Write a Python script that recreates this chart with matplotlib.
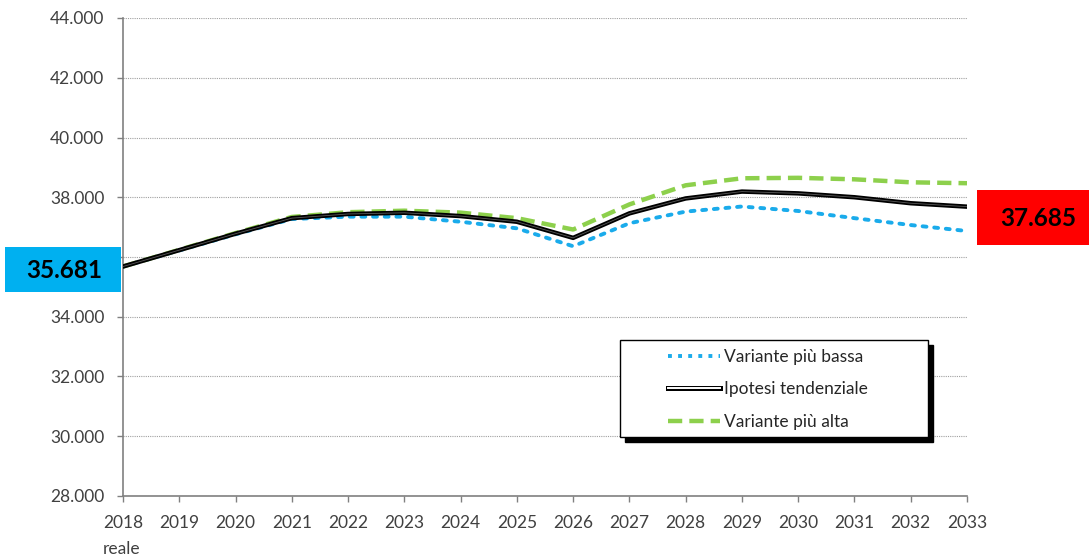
import matplotlib
matplotlib.use("Agg")
import matplotlib.pyplot as plt
from matplotlib.ticker import FuncFormatter, MultipleLocator
from matplotlib.lines import Line2D
import matplotlib.patheffects as pe

years = ["2018\nreale", "2019", "2020", "2021", "2022", "2023", "2024", "2025",
         "2026", "2027", "2028", "2029", "2030", "2031", "2032", "2033"]
bassa = [35681, 36220, 36760, 37270, 37350, 37350, 37180, 36960,
         36360, 37130, 37520, 37690, 37540, 37300, 37070, 36870]
tendenziale = [35681, 36230, 36780, 37300, 37440, 37480, 37370, 37180,
               36640, 37460, 37960, 38190, 38130, 38000, 37800, 37685]
alta = [35681, 36240, 36800, 37340, 37500, 37550, 37485, 37300,
        36920, 37760, 38400, 38635, 38650, 38600, 38500, 38470]
series_names = ["Variante più bassa", "Ipotesi tendenziale", "Variante più alta"]
label_left = "35.681"
label_right = "37.685"

plt.rcParams['font.family'] = ['Lato', 'DejaVu Sans']

fig = plt.figure(figsize=(10.89, 5.56), dpi=100)
ax = fig.add_axes([123/1089, 1 - 496/556, (967-123)/1089, (496-18)/556])

x = list(range(len(years)))
ax.plot(x, bassa, color="#1AABEB", lw=2.8, linestyle=(0, (1, 2)),
        dash_capstyle='round', zorder=3)
ax.plot(x, tendenziale, color="black", lw=3.2, zorder=4)
ax.plot(x, tendenziale, color="#5a5a5a", lw=0.6, zorder=5)
ax.plot(x, alta, color="#8DD04C", lw=3.2, linestyle=(0, (3.2, 1.6)), zorder=3)

ax.set_xlim(0, len(years) - 1)
ax.set_ylim(28000, 44000)
ax.yaxis.set_major_locator(MultipleLocator(2000))
# the 36.000 label is hidden behind the blue value box in the original
ax.yaxis.set_major_formatter(FuncFormatter(
    lambda v, p: "" if abs(v - 36000) < 1 else f"{v:,.0f}".replace(",", ".")))
ax.set_xticks(x)
ax.set_xticklabels(years, linespacing=1.75)
for lbl in ax.get_xticklabels():
    lbl.set_verticalalignment('top')
    lbl.set_horizontalalignment('center')
    lbl.set_multialignment('left')

ax.grid(axis='y', color="#a0a0a0", linestyle=(0, (1, 1)), lw=0.8)
for s in ['top', 'right']:
    ax.spines[s].set_visible(False)
for s in ['left', 'bottom']:
    ax.spines[s].set_color("#808080")
    ax.spines[s].set_linewidth(1.2)
ax.tick_params(axis='both', colors="#808080", labelcolor="#404040",
               labelsize=12.5, length=4.5, width=1)
ax.tick_params(axis='x', pad=9)
ax.tick_params(axis='y', pad=9)

# Legend with shadow
lx, ly, lw_, lh = 620/1089, 1 - 437/556, (928-620)/1089, (437-340)/556
fig.patches.append(plt.Rectangle((lx + 5/1089, ly - 5/556), lw_, lh,
                                 transform=fig.transFigure, facecolor='black',
                                 edgecolor='black', zorder=9))
fig.patches.append(plt.Rectangle((lx, ly), lw_, lh, transform=fig.transFigure,
                                 facecolor='white', edgecolor='black', lw=1.0,
                                 zorder=10))

h1 = Line2D([], [], color="#1AABEB", lw=2.8, linestyle=(0, (1, 1.6)))
h2 = Line2D([], [], color="black", lw=3.6,
            path_effects=[pe.Stroke(linewidth=3.6, foreground='black'),
                          pe.Stroke(linewidth=1.4, foreground='white')])
h3 = Line2D([], [], color="#8DD04C", lw=3.2, linestyle=(0, (3.2, 1.6)))
leg = fig.legend([h1, h2, h3], series_names,
                 loc='upper left', bbox_to_anchor=(661/1089, 1 - 342/556),
                 frameon=False, fontsize=12.5, handlelength=3.0, handletextpad=0.2,
                 labelspacing=0.95, borderaxespad=0)
leg.set_zorder(11)
for t in leg.get_texts():
    t.set_color("#262626")

# Value boxes
fig.patches.append(plt.Rectangle((5/1089, 1 - 292/556), 116/1089, 45/556,
                                 transform=fig.transFigure, facecolor="#00B0F0",
                                 edgecolor='none', zorder=5))
fig.text(64/1089, 1 - 270/556, label_left, ha='center', va='center',
         fontsize=17.5, fontweight='bold', color='black', zorder=6)
fig.patches.append(plt.Rectangle((977/1089, 1 - 245/556), 112/1089, 55/556,
                                 transform=fig.transFigure, facecolor="#FF0000",
                                 edgecolor='none', zorder=5))
fig.text(1038/1089, 1 - 219/556, label_right, ha='center', va='center',
         fontsize=17.5, fontweight='bold', color='black', zorder=6)

fig.savefig("out.png", dpi=100)
